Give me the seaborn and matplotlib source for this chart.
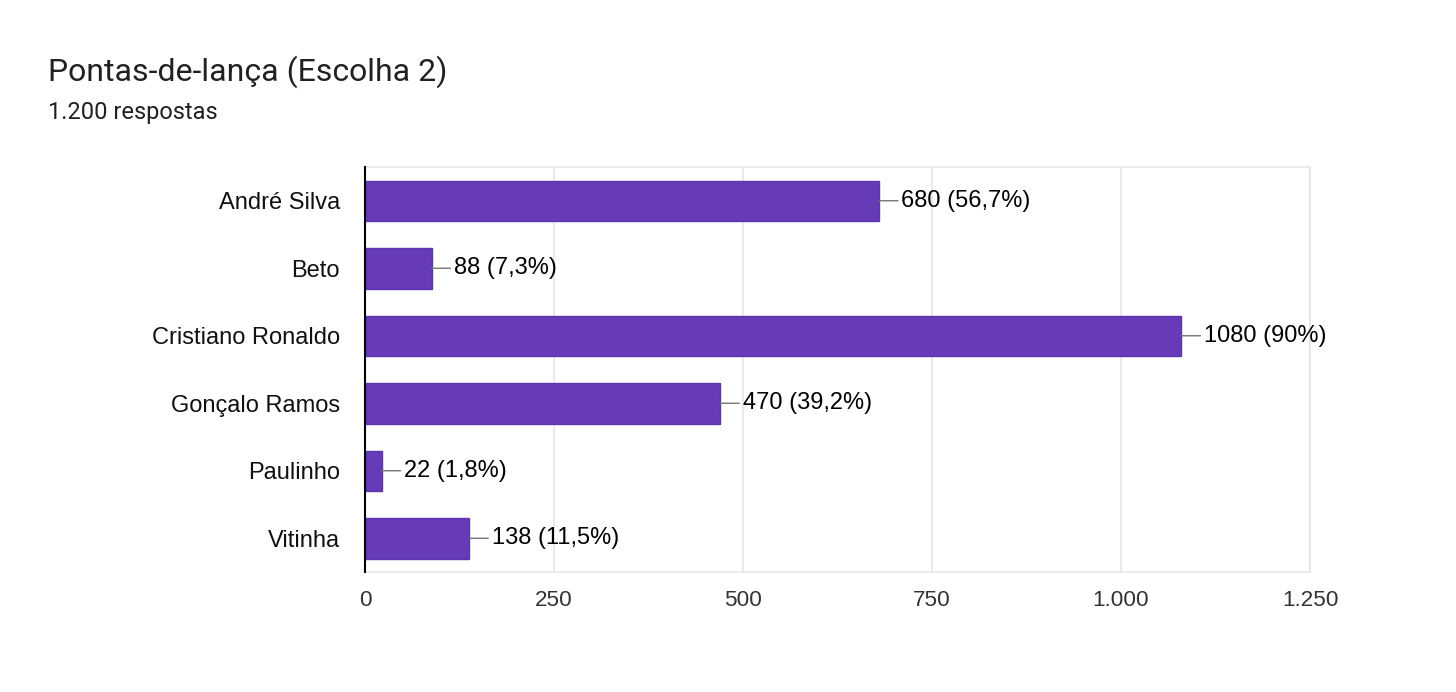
import matplotlib
matplotlib.use("Agg")
import matplotlib.pyplot as plt
import seaborn as sns
import pandas as pd

categories = ["André Silva", "Beto", "Cristiano Ronaldo", "Gonçalo Ramos", "Paulinho", "Vitinha"]
values = [680, 88, 1080, 470, 22, 138]
labels = ["680 (56,7%)", "88 (7,3%)", "1080 (90%)", "470 (39,2%)", "22 (1,8%)", "138 (11,5%)"]
xticks = [0, 250, 500, 750, 1000, 1250]
xticklabels = ["0", "250", "500", "750", "1.000", "1.250"]
title = "Pontas-de-lança (Escolha 2)"
subtitle = "1.200 respostas"

sns.set_theme(style="white")
plt.rcParams["font.family"] = ["Liberation Sans", "DejaVu Sans"]

df = pd.DataFrame({"cat": categories, "val": values})

fig = plt.figure(figsize=(14.56, 6.92), dpi=100)
ax = fig.add_axes([365/1456, 1-572/692, 945/1456, 405/692])

sns.barplot(data=df, y="cat", x="val", orient="h", color="#673AB7",
            edgecolor="#5E35B1", linewidth=1, width=0.6, saturation=1, ax=ax)

ax.set_xlim(0, 1250)
ax.set_xticks(xticks)
ax.set_xticklabels(xticklabels)
ax.set_xlabel("")
ax.set_ylabel("")
ax.grid(axis="x", color="#e6e6e6", lw=1.2)
ax.set_axisbelow(True)
for s in ["top", "right", "bottom"]:
    ax.spines[s].set_color("#e6e6e6")
    ax.spines[s].set_linewidth(1.2)
ax.spines["left"].set_color("#000000")
ax.spines["left"].set_linewidth(1.5)
ax.spines["left"].set_zorder(5)
ax.tick_params(axis="x", length=0, pad=13, labelsize=16.2, labelcolor="#333333")
ax.tick_params(axis="y", length=0, pad=18, labelsize=17, labelcolor="#111111")

for i, (v, lab) in enumerate(zip(values, labels)):
    ax.annotate(lab, xy=(v, i), xytext=(16, 0), textcoords="offset points",
                va="center", ha="left", fontsize=17, color="#000000",
                arrowprops=dict(arrowstyle="-", color="#757575", lw=1,
                                shrinkA=0, shrinkB=0))

fig.text(48/1456, 1-72/692, title, fontsize=23, family=["Roboto", "DejaVu Sans"],
         color="#202124", va="center", ha="left")
fig.text(48/1456, 1-112/692, subtitle, fontsize=17, family=["Roboto", "DejaVu Sans"],
         color="#202124", va="center", ha="left")

fig.savefig("out.png", dpi=100, facecolor="white")
